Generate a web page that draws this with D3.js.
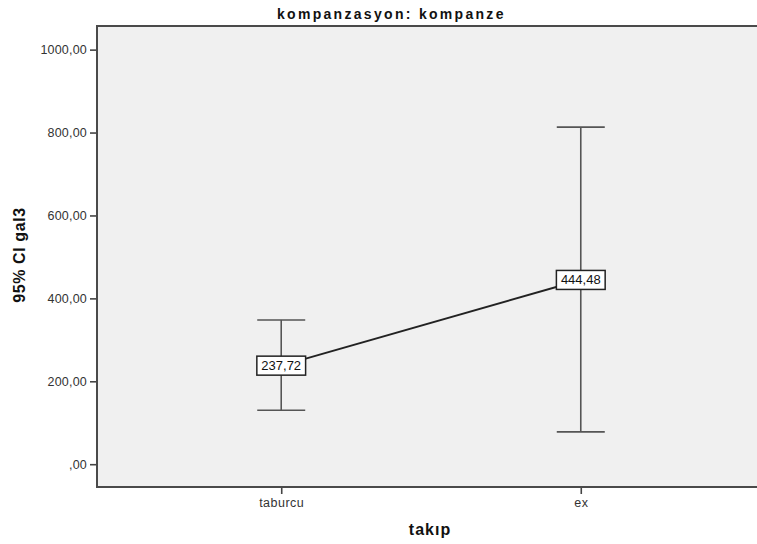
<!DOCTYPE html>
<html>
<head>
<meta charset="utf-8">
<script src="https://cdn.jsdelivr.net/npm/d3@7"></script>
<style>
  html, body { margin: 0; padding: 0; background: #fff; }
  svg { display: block; font-family: Arial, "Liberation Sans", sans-serif; }
</style>
</head>
<body>
<svg id="chart" width="757" height="544"></svg>
<script>
// Error bar chart: mean of gal3 with 95% CI per follow-up group
const categories = ["taburcu", "ex"];
const means = [237.72, 444.48];
const lowerCI = [130, 78];
const upperCI = [348, 813];
const yTicks = [0, 200, 400, 600, 800, 1000];
const meanLabels = ["237,72", "444,48"];

const svg = d3.select("#chart");
const plot = { left: 97, right: 765, top: 26, bottom: 487 };

const x = d3.scalePoint()
  .domain(categories)
  .range([plot.left, plot.right])
  .padding(0.615);

const y = d3.scaleLinear()
  .domain([-55, 1057])
  .range([plot.bottom, plot.top]);

const fmt = v => {
  const s = v.toFixed(2).replace(".", ",");
  return s.startsWith("0,") ? s.slice(1) : s;
};

// plot background
svg.append("rect")
  .attr("x", plot.left).attr("y", plot.top)
  .attr("width", plot.right - plot.left)
  .attr("height", plot.bottom - plot.top)
  .attr("fill", "#f0f0f0");

// title
svg.append("text")
  .attr("x", 277).attr("y", 19)
  .attr("text-anchor", "start")
  .attr("font-size", 14).attr("font-weight", "bold")
  .attr("letter-spacing", "2.3px")
  .attr("fill", "#111")
  .text("kompanzasyon: kompanze");

// y axis
const yAxis = d3.axisLeft(y).tickValues(yTicks).tickFormat(fmt).tickSize(7).tickPadding(3);
const gy = svg.append("g").attr("transform", `translate(${plot.left},0)`).call(yAxis);
gy.select(".domain").remove();
gy.selectAll(".tick line").attr("stroke", "#444").attr("stroke-width", 1.6);
gy.selectAll(".tick text").attr("font-size", 12.5).attr("fill", "#333")
  .attr("letter-spacing", "0.2px")
  .attr("font-family", "Arial, 'Liberation Sans', sans-serif");

// x axis
const xAxis = d3.axisBottom(x).tickSize(7).tickPadding(4);
const gx = svg.append("g").attr("transform", `translate(0,${plot.bottom})`).call(xAxis);
gx.select(".domain").remove();
gx.selectAll(".tick line").attr("stroke", "#444").attr("stroke-width", 1.6);
gx.selectAll(".tick text").attr("font-size", 12.5).attr("fill", "#333")
  .attr("letter-spacing", "0.5px")
  .attr("font-family", "Arial, 'Liberation Sans', sans-serif");

// frame: left, top, bottom edges
svg.append("path")
  .attr("d", `M${plot.right},${plot.top}H${plot.left}V${plot.bottom}H${plot.right}`)
  .attr("fill", "none").attr("stroke", "#4a4a4a").attr("stroke-width", 2);

// axis titles
svg.append("text")
  .attr("x", 430).attr("y", 535)
  .attr("text-anchor", "middle")
  .attr("font-size", 16).attr("font-weight", "bold").attr("fill", "#111")
  .attr("letter-spacing", "1px")
  .text("takıp");

svg.append("text")
  .attr("transform", `translate(25,255) rotate(-90)`)
  .attr("text-anchor", "middle")
  .attr("font-size", 16).attr("font-weight", "bold").attr("fill", "#111")
  .attr("letter-spacing", "0.6px")
  .text("95% CI gal3");

// error bars
const capHalf = 24;
const bars = svg.append("g");
categories.forEach((c, i) => {
  const cx = x(c);
  bars.append("line")
    .attr("x1", cx).attr("x2", cx)
    .attr("y1", y(upperCI[i])).attr("y2", y(lowerCI[i]))
    .attr("stroke", "#555").attr("stroke-width", 1.6);
  [upperCI[i], lowerCI[i]].forEach(v => {
    bars.append("line")
      .attr("x1", cx - capHalf).attr("x2", cx + capHalf)
      .attr("y1", y(v)).attr("y2", y(v))
      .attr("stroke", "#555").attr("stroke-width", 1.6);
  });
});

// line joining the means
const line = d3.line().x((d, i) => x(categories[i])).y(d => y(d));
svg.append("path")
  .datum(means)
  .attr("d", line)
  .attr("fill", "none").attr("stroke", "#222").attr("stroke-width", 2);

// mean value labels
categories.forEach((c, i) => {
  const cx = x(c), cy = y(means[i]);
  const g = svg.append("g");
  const rect = g.append("rect");
  const t = g.append("text")
    .attr("x", cx).attr("y", cy + 4.5)
    .attr("text-anchor", "middle")
    .attr("font-size", 13).attr("fill", "#111")
    .text(meanLabels[i]);
  const bb = t.node().getBBox();
  const w = bb.width + 9, h = 19;
  rect.attr("x", cx - w / 2).attr("y", cy - h / 2)
    .attr("width", w).attr("height", h)
    .attr("fill", "#fff").attr("stroke", "#222").attr("stroke-width", 1.5);
});
</script>
</body>
</html>
